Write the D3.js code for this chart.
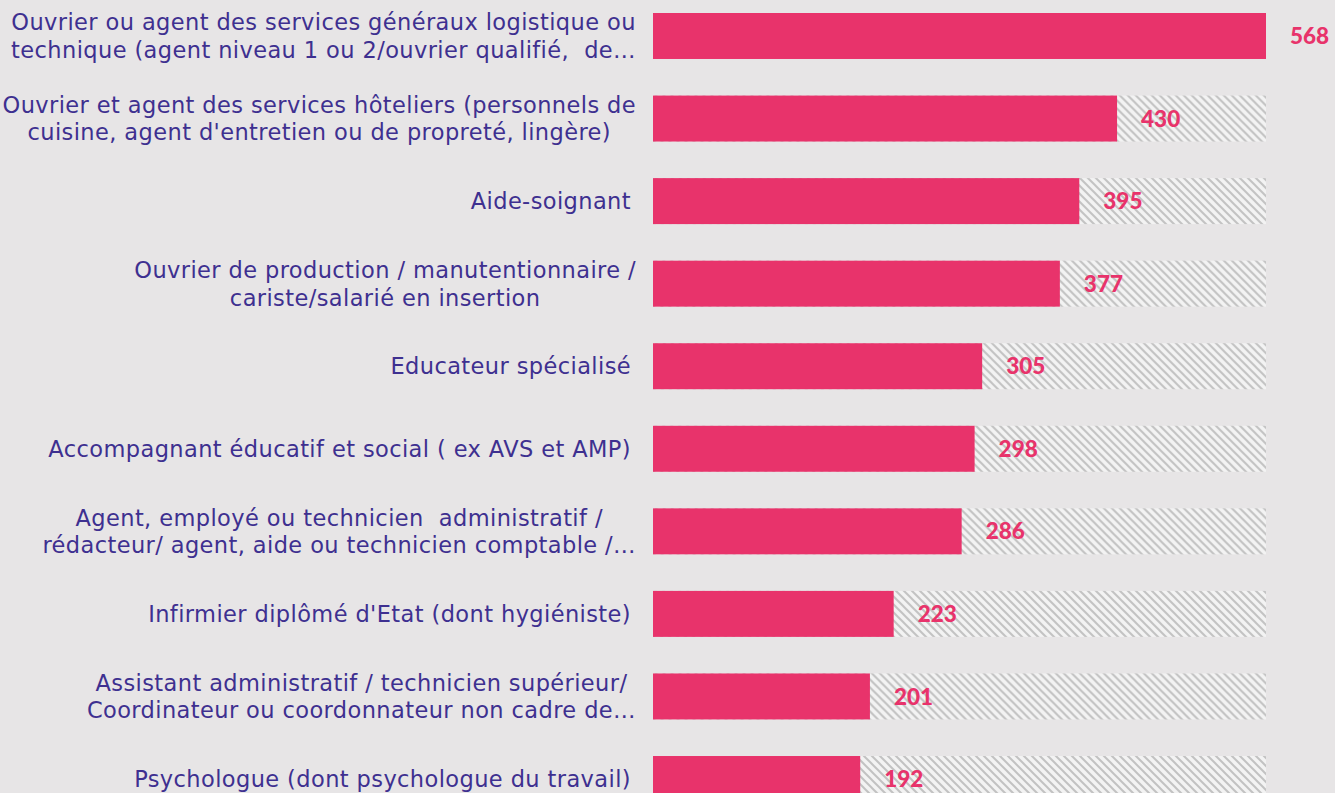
<!DOCTYPE html>
<html>
<head>
<meta charset="utf-8">
<script src="https://cdn.jsdelivr.net/npm/d3@7"></script>
<style>
  html, body { margin: 0; padding: 0; background: #e7e5e6; }
  svg { display: block; }
</style>
</head>
<body>
<svg id="chart" width="1335" height="793"></svg>
<script>
// data
var categories = [
  ["Ouvrier ou agent des services généraux logistique ou", "technique (agent niveau 1 ou 2/ouvrier qualifié,  de…"],
  ["Ouvrier et agent des services hôteliers (personnels de", "cuisine, agent d'entretien ou de propreté, lingère)"],
  ["Aide-soignant"],
  ["Ouvrier de production / manutentionnaire /", "cariste/salarié en insertion"],
  ["Educateur spécialisé"],
  ["Accompagnant éducatif et social ( ex AVS et AMP)"],
  ["Agent, employé ou technicien  administratif /", "rédacteur/ agent, aide ou technicien comptable /…"],
  ["Infirmier diplômé d'Etat (dont hygiéniste)"],
  ["Assistant administratif / technicien supérieur/", "Coordinateur ou coordonnateur non cadre de…"],
  ["Psychologue (dont psychologue du travail)"]
];
var values = [568, 430, 395, 377, 305, 298, 286, 223, 201, 192];
var maxValue = 568;

var pink = "#e8336b";
var purple = "#3e3090";

var svg = d3.select("#chart");

// hatch for the background track
var defs = svg.append("defs");
var pat = defs.append("pattern")
  .attr("id", "hatch")
  .attr("patternUnits", "userSpaceOnUse")
  .attr("width", 8).attr("height", 8);
pat.append("rect").attr("width", 8).attr("height", 8).attr("fill", "#f3f3f3");
pat.append("path")
  .attr("d", "M-2,-2 L10,10 M-2,6 L2,10 M6,-2 L10,2")
  .attr("stroke", "#c2c2c2").attr("stroke-width", 2);

var x = d3.scaleLinear().domain([0, maxValue]).range([653, 1266]);
var y = d3.scaleBand()
  .domain(d3.range(values.length))
  .range([13, 802])
  .paddingInner(0.443)
  .paddingOuter(0);

var rows = svg.selectAll(".row")
  .data(values)
  .enter().append("g")
  .attr("class", "row")
  .attr("transform", function(d, i){ return "translate(0," + y(i) + ")"; });

rows.append("rect")
  .attr("x", x(0))
  .attr("width", x(maxValue) - x(0))
  .attr("height", y.bandwidth())
  .attr("fill", "url(#hatch)");

rows.append("rect")
  .attr("x", x(0))
  .attr("width", function(d){ return x(d) - x(0); })
  .attr("height", y.bandwidth())
  .attr("fill", pink);

rows.append("text")
  .attr("x", function(d){ return x(d) + 24; })
  .attr("y", y.bandwidth() / 2)
  .attr("dy", "0.36em")
  .attr("fill", pink)
  .style("font-family", "Lato, sans-serif")
  .style("font-weight", "900")
  .style("font-size", "22.5px")
  .text(function(d){ return d; });

// category labels, lines centred on each other, block right aligned
var lineH = 27.5;
rows.each(function(d, i){
  var g = d3.select(this);
  var lines = categories[i];
  var texts = g.selectAll("text.cat")
    .data(lines)
    .enter().append("text")
    .attr("class", "cat")
    .attr("y", function(l, j){ return y.bandwidth() / 2 + (j - (lines.length - 1) / 2) * lineH; })
    .attr("dy", "0.36em")
    .attr("text-anchor", "middle")
    .attr("fill", purple)
    .style("font-family", "'DejaVu Sans', sans-serif")
    .style("font-size", "22.5px")
    .style("letter-spacing", "0.4px")
    .style("white-space", "pre")
    .text(function(l){ return l; });
  var w = 0;
  texts.each(function(){ w = Math.max(w, this.getComputedTextLength()); });
  var right = lines.length > 1 ? 636 : 631;
  texts.attr("x", right - w / 2);
});
</script>
</body>
</html>
